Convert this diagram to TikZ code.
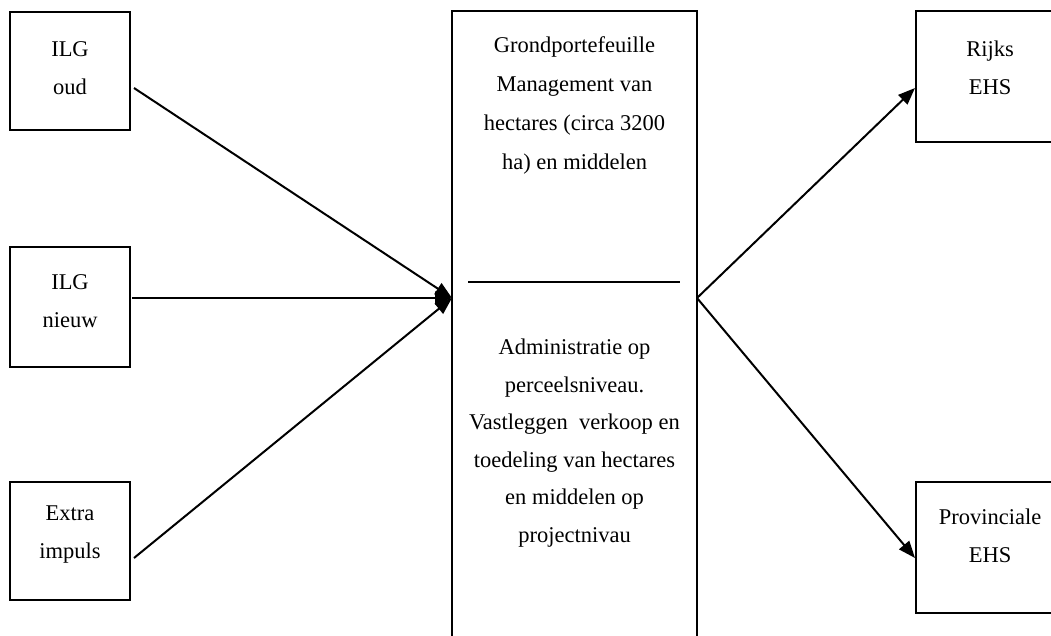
\documentclass[tikz,border=0pt]{standalone}
\usepackage{fontspec}
\setmainfont{Liberation Serif}
\usetikzlibrary{arrows.meta}
\begin{document}
\begin{tikzpicture}[x=1pt,y=-1pt,
  box/.style={draw,line width=2pt,minimum width=#1,inner sep=0pt},
  lbl/.style={align=center,font=\fontsize{22.5}{38}\selectfont},
  conn/.style={line width=2pt,-{Triangle[length=17pt,width=13pt]}}]
\useasboundingbox (0,0) rectangle (1051,635);
\clip (0,0) rectangle (1051,635);
\fill[white] (0,0) rectangle (1051,635);
% left boxes
\node[box=120pt,minimum height=118pt] (b1) at (70,71) {};
\node[lbl] (t1) at (70,68) {ILG\\oud};
\node[box=120pt,minimum height=120pt] (b2) at (70,307) {};
\node[lbl] (t2) at (70,301) {ILG\\nieuw};
\node[box=120pt,minimum height=118pt] (b3) at (70,541) {};
\node[lbl] (t3) at (70,535) {Extra\\impuls};
% centre box
\node[box=245pt,minimum height=700pt] (c) at (574.5,361) {};
\node[lbl,font=\fontsize{22.5}{39}\selectfont] (ct) at (574.5,105) {Grondportefeuille\\Management van\\hectares (circa 3200\\ha) en middelen};
\node[lbl,font=\fontsize{22.5}{37.6}\selectfont] (cb) at (574.5,443) {Administratie op\\perceelsniveau.\\Vastleggen\ \ verkoop en\\toedeling van hectares\\en middelen op\\projectnivau};
\coordinate (hl) at (468,282);
\coordinate (hr) at (680,282);
\draw[line width=2pt] (hl) -- (hr);
% right boxes
\node[box=148pt,minimum height=131pt] (r1) at (990,76.5) {};
\node[lbl] (rt1) at (990,68) {Rijks\\EHS};
\node[box=148pt,minimum height=131pt] (r2) at (990,547.5) {};
\node[lbl] (rt2) at (990,536) {Provinciale\\EHS};
% connectors
\coordinate (inL) at (452,298);
\coordinate (outR) at (697,298);
\coordinate (s1) at ([shift={(3,17)}]b1.east);
\coordinate (s2) at ([shift={(1,-9)}]b2.east);
\coordinate (s3) at ([shift={(3,17)}]b3.east);
\coordinate (e1) at ([shift={(0,11.5)}]r1.west);
\coordinate (e2) at ([shift={(0,10.5)}]r2.west);
\draw[conn] (s1) -- (inL);
\draw[conn] (s2) -- (inL);
\draw[conn] (s3) -- (inL);
\draw[conn] (outR) -- (e1);
\draw[conn] (outR) -- (e2);
\end{tikzpicture}
\end{document}
